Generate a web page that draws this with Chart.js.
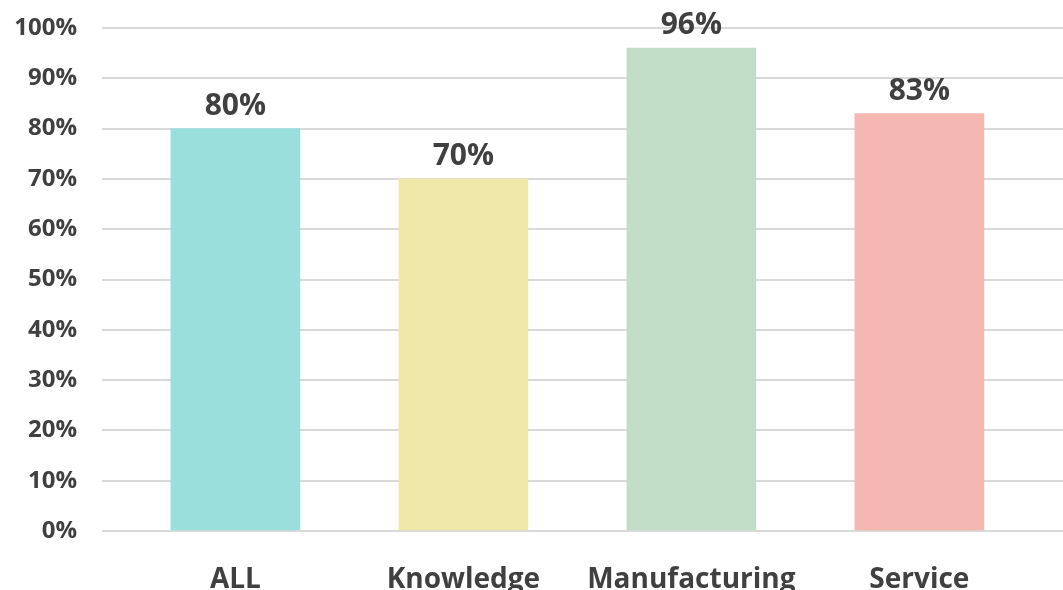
<!DOCTYPE html>
<html>
<head>
<meta charset="utf-8">
<script src="https://cdn.jsdelivr.net/npm/chart.js@4"></script>
<style>
  html, body { margin: 0; padding: 0; background: #ffffff; overflow: hidden; }
  #wrap { position: relative; width: 1063px; height: 600px; }
</style>
</head>
<body>
<div id="wrap"><canvas id="chart" width="1063" height="600"></canvas></div>
<script>
// Share of firms by sector (percent)
const categories = ['ALL', 'Knowledge', 'Manufacturing', 'Service'];
const shares = [80, 70, 96, 83];
const barColors = ['#9BDFDC', '#F0E8A8', '#C2DDC7', '#F5B7B1'];
const yTicks = [0, 10, 20, 30, 40, 50, 60, 70, 80, 90, 100];

const textColor = '#404040';
const fontFamily = '"Open Sans", "Liberation Sans", sans-serif';

// Writes each bar's value above it
const valueLabels = {
  id: 'valueLabels',
  afterDatasetsDraw(chart) {
    const { ctx } = chart;
    const meta = chart.getDatasetMeta(0);
    ctx.save();
    ctx.font = `bold 30px ${fontFamily}`;
    ctx.fillStyle = textColor;
    ctx.textAlign = 'center';
    ctx.textBaseline = 'alphabetic';
    meta.data.forEach((bar, i) => {
      ctx.fillText(shares[i] + '%', bar.x, bar.y - 14);
    });
    ctx.restore();
  }
};

new Chart(document.getElementById('chart'), {
  type: 'bar',
  data: {
    datasets: [{
      data: categories.map((c, i) => ({ x: i, y: shares[i] })),
      backgroundColor: barColors,
      borderWidth: 0,
      barThickness: 129
    }]
  },
  options: {
    responsive: false,
    animation: false,
    layout: { padding: { top: 28, right: 0, left: 0, bottom: 0 } },
    plugins: {
      legend: { display: false },
      tooltip: { enabled: false }
    },
    scales: {
      x: {
        type: 'linear',
        offset: false,
        min: -0.585,
        max: 3.63,
        grid: { display: false, drawTicks: false, offset: false },
        border: { display: false },
        afterBuildTicks(scale) {
          scale.ticks = categories.map((c, i) => ({ value: i }));
        },
        afterFit(scale) { scale.height = 69; },
        ticks: {
          padding: 32,
          autoSkip: false,
          maxRotation: 0,
          color: textColor,
          font: { family: fontFamily, size: 28, weight: 'bold' },
          callback: (v) => categories[v] ?? ''
        }
      },
      y: {
        min: 0,
        max: 100,
        afterBuildTicks(scale) {
          scale.ticks = yTicks.map(v => ({ value: v }));
        },
        afterFit(scale) { scale.width = 102; },
        grid: {
          color: '#D9D9D9',
          lineWidth: 2,
          drawTicks: true,
          tickLength: 25,
          tickColor: 'rgba(0,0,0,0)'
        },
        border: { display: false },
        ticks: {
          padding: 0,
          color: textColor,
          font: { family: fontFamily, size: 24, weight: 'bold' },
          callback: (v) => v + '%'
        }
      }
    }
  },
  plugins: [valueLabels]
});
</script>
</body>
</html>
